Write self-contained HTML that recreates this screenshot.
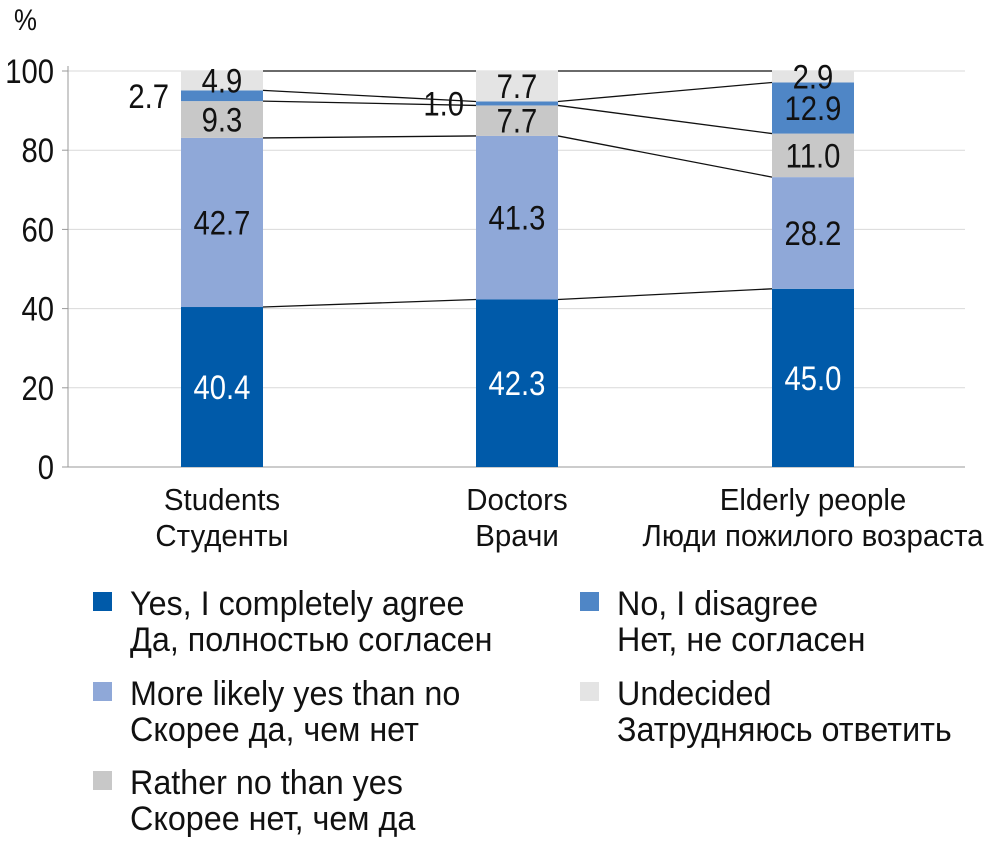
<!DOCTYPE html>
<html><head><meta charset="utf-8"><style>
body{margin:0;background:#fff}
svg text{font-family:"Liberation Sans",sans-serif}
</style></head><body>
<svg width="994" height="848" viewBox="0 0 994 848" id="chart">
</svg>
<script>
const categories=["Students","Doctors","Elderly people"];
const categoriesRu=["Студенты","Врачи","Люди пожилого возраста"];
const seriesNames=["Yes, I completely agree","More likely yes than no","Rather no than yes","No, I disagree","Undecided"];
const seriesNamesRu=["Да, полностью согласен","Скорее да, чем нет","Скорее нет, чем да","Нет, не согласен","Затрудняюсь ответить"];
const s1=[40.4,42.3,45.0];
const s2=[42.7,41.3,28.2];
const s3=[9.3,7.7,11.0];
const s4=[2.7,1.0,12.9];
const s5=[4.9,7.7,2.9];
const yTicks=[0,20,40,60,80,100];
const series=[s1,s2,s3,s4,s5];
const colors=["#005aa9","#8fa8d8","#c8c8c8","#4f86c6","#e4e4e4"];
const textColors=["#fff","#111","#111","#111","#111"];
const NS="http://www.w3.org/2000/svg";
const svg=document.getElementById('chart');
function mk(t,a,p){const e=document.createElementNS(NS,t);for(const k in a)e.setAttribute(k,a[k]);(p||svg).appendChild(e);return e;}
function txt(x,yy,str,size,sx,anchor,fill,p){
 const g=mk('g',{transform:`translate(${x},${yy}) scale(${sx},1)`},p);
 const t=mk('text',{x:0,y:0,'text-anchor':anchor,'font-size':size,fill:fill},g);
 t.textContent=str;return g;
}
const x0=68,x1=965,y0=467,y100=71;
const y=v=>y0-(v/100)*(y0-y100);
const centers=[222,517,813];const bw=82;
const xc=i=>centers[i];
yTicks.forEach(t=>{
 const g=mk('line',{x1:x0,x2:x1,y1:y(t),y2:y(t),stroke:t==0?'#999':'#d9d9d9','stroke-width':1});
 
 
 const tk=mk('line',{x1:x0-6,x2:x0,y1:y(t),y2:y(t),stroke:'#999'});
 
 
 const tx=txt(54,y(t)+12,String(t),34,0.86,'end','#111');
 
 
});
const ax=mk('line',{x1:x0,x2:x0,y1:y0,y2:y100-5,stroke:'#999'});


const pc=txt(14,30,'%',30,0.86,'start','#111');


const cum=categories.map((c,i)=>{let a=[0];series.forEach(s=>a.push(a[a.length-1]+s[i]));return a;});
for(let i=0;i<categories.length-1;i++){
 for(let k=1;k<=5;k++){
  const l=mk('line',{x1:xc(i)+bw/2,y1:y(cum[i][k]),x2:xc(i+1)-bw/2,y2:y(cum[i+1][k]),stroke:'#111','stroke-width':1.3});
  
  
 }
}
categories.forEach((c,i)=>{
 series.forEach((s,k)=>{
  const r=mk('rect',{x:xc(i)-bw/2,y:y(cum[i][k+1]),width:bw,height:y(cum[i][k])-y(cum[i][k+1]),fill:colors[k]});
  
  
  const left=s[i]<4&&k==3;
  const mid=(y(cum[i][k])+y(cum[i][k+1]))/2;
  const tx=txt(left?xc(i)-bw/2-12:xc(i),mid+12,s[i].toFixed(1),34,0.86,left?'end':'middle',left?'#111':textColors[k]);
  
  
 });
 const l1=txt(xc(i),510,c,31,0.95,'middle','#111');
 
 
 const l2=txt(xc(i),546,categoriesRu[i],31,0.95,'middle','#111');
 
 
});
const lpos=[[93,592],[93,682],[93,771],[580,592],[580,682]];
seriesNames.forEach((n,k)=>{
 const [lx,ly]=lpos[k];
 const g=mk('g',{});
 
 
 mk('rect',{x:lx,y:ly,width:19,height:19,fill:colors[k]},g);
 txt(lx+37,ly+23,n,34,0.95,'start','#111',g);
 txt(lx+37,ly+59,seriesNamesRu[k],34,0.95,'start','#111',g);
});
</script>
</body></html>
